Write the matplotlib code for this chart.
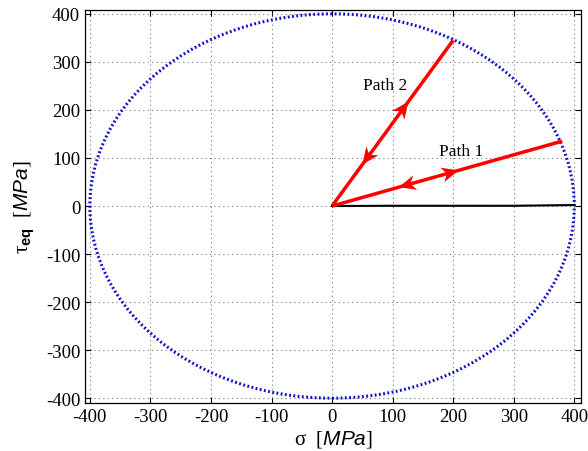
import matplotlib.pyplot as plt
import numpy as np
from matplotlib.patches import Circle, Polygon

plt.rcParams['axes.unicode_minus'] = False
plt.rcParams['mathtext.fontset'] = 'custom'
plt.rcParams['mathtext.rm'] = 'Liberation Serif'
plt.rcParams['mathtext.it'] = 'Liberation Sans:italic'
plt.rcParams['mathtext.bf'] = 'Liberation Sans:bold'

# yield surface radius and loading paths (sigma, tau_eq) in MPa
radius = 400
path1 = [(0, 0), (380, 135)]
path2 = [(0, 0), (200, 345)]
# arrow tips as fraction along each path: (forward, backward)
path1_arrows = (0.55, 0.29)
path2_arrows = (0.63, 0.25)
base_x = [0, 100, 300, 400]
base_y = [0, 0.5, 0.5, 2]
ticks = [-400, -300, -200, -100, 0, 100, 200, 300, 400]

fig = plt.figure(figsize=(5.88, 4.52), dpi=100)
ax = fig.add_axes([0.1446, 0.1062, 0.8434, 0.8695])
ax.set_xlim(-408, 411)
ax.set_ylim(-410, 408)

ax.add_patch(Circle((0, 0), radius, fill=False, edgecolor=(0.05, 0.05, 0.8),
                    lw=2.2, ls=(0, (0.6, 0.8)), zorder=2))
ax.plot(base_x, base_y, color='black', lw=1.5, zorder=3)


def arrow_head(tip, direction, length=17, half_w=7.5, notch=5):
    # stealth-style head built in pixel space, then mapped back to data
    to_px = ax.transData
    t = to_px.transform(tip)
    d = to_px.transform(np.add(tip, direction)) - t
    d = d / np.hypot(*d)
    n = np.array([-d[1], d[0]])
    pts = [t, t - length * d + half_w * n, t - (length - notch) * d,
           t - length * d - half_w * n]
    pts = to_px.inverted().transform(np.array(pts))
    ax.add_patch(Polygon(pts, closed=True, color='red', lw=0, zorder=5))


def draw_path(p, arrows):
    (x0, y0), (x1, y1) = p
    ax.plot([x0, x1], [y0, y1], color='red', lw=2.5, zorder=4,
            solid_capstyle='butt')
    dx, dy = x1 - x0, y1 - y0
    for f, sgn in zip(arrows, (1, -1)):
        tip = (x0 + f * dx, y0 + f * dy)
        arrow_head(tip, (sgn * dx, sgn * dy))


draw_path(path1, path1_arrows)
draw_path(path2, path2_arrows)

ax.text(88, 252, 'Path 2', family='Liberation Serif', fontsize=12.5,
        ha='center', va='center')
ax.text(213, 115, 'Path 1', family='Liberation Serif', fontsize=12.5,
        ha='center', va='center')

ax.set_xticks(ticks)
ax.set_yticks(ticks)
ax.set_xticklabels([str(t) for t in ticks], family='Liberation Serif', fontsize=13.5)
ax.set_yticklabels([str(t) for t in ticks], family='Liberation Serif', fontsize=13.5)
ax.tick_params(direction='in', length=4, top=True, right=True, width=0.8)
ax.grid(True, ls=(0, (1, 3)), color='#777777', lw=0.8)
ax.set_axisbelow(True)
for s in ax.spines.values():
    s.set_linewidth(0.9)

ax.set_xlabel(r'σ  $\mathit{[MPa]}$', family='Liberation Serif', fontsize=15, labelpad=2)
ax.set_ylabel(r'τ$_{\mathbf{eq}}$  $\mathit{[MPa]}$', family='Liberation Serif',
              fontsize=15, labelpad=6)

fig.savefig('out.png', dpi=100)
